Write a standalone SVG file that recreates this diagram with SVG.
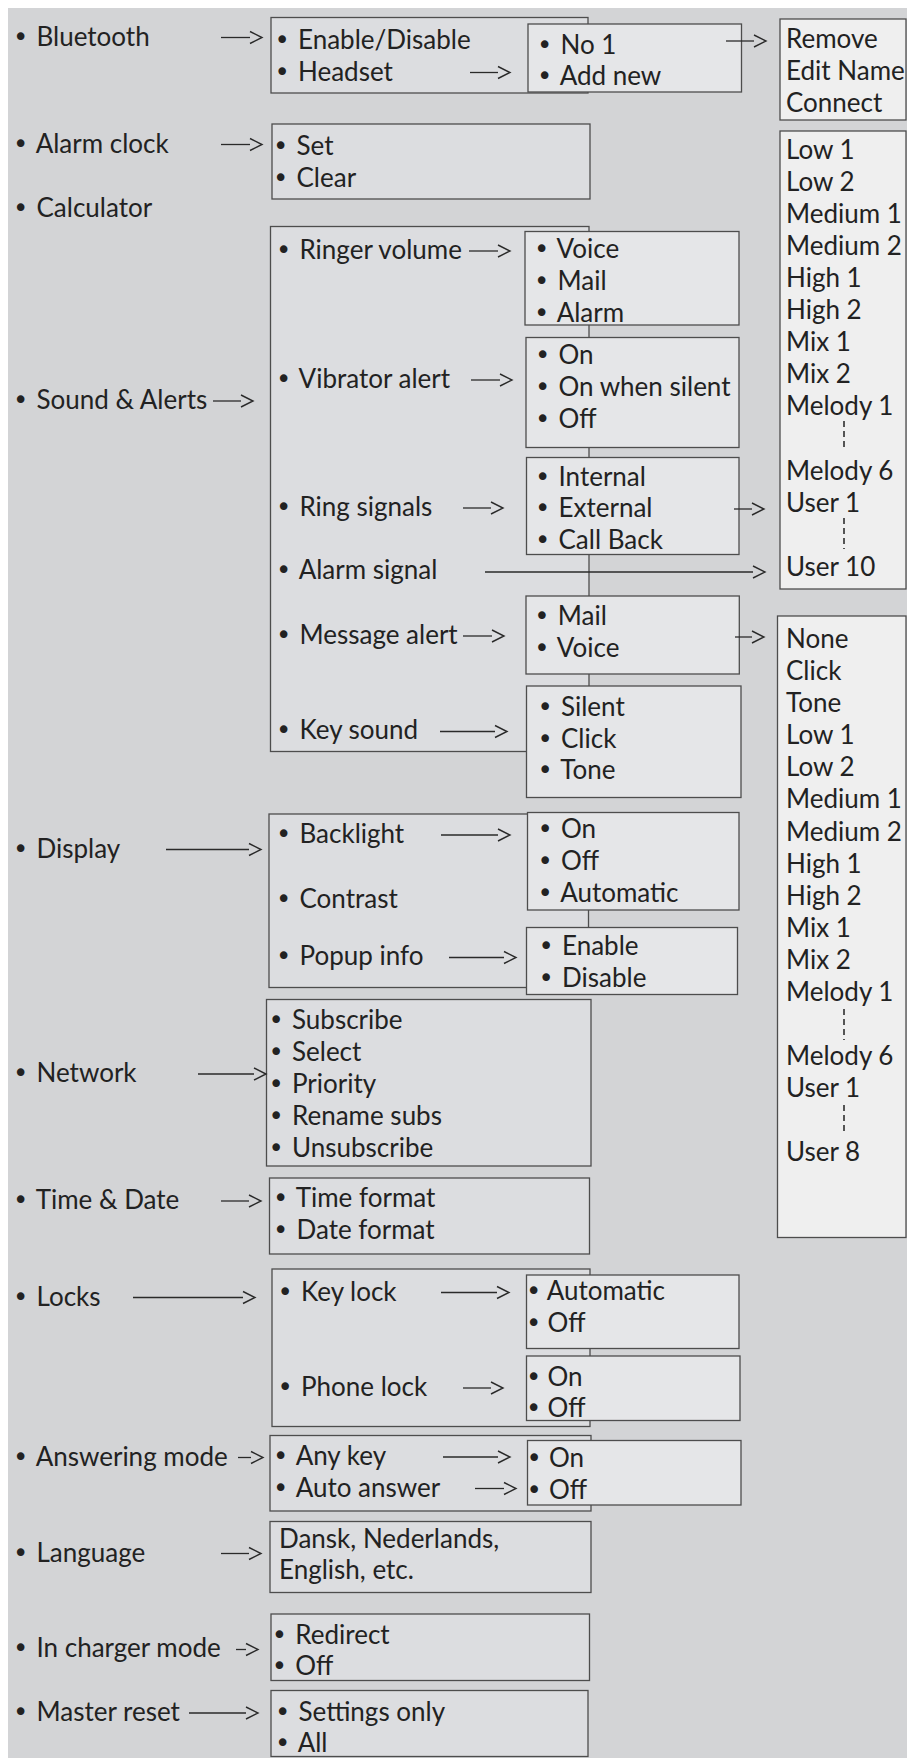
<svg xmlns="http://www.w3.org/2000/svg" width="907" height="1758" viewBox="0 0 907 1758">
<style>
.t{font-family:Lato,"Open Sans","DejaVu Sans",sans-serif;font-size:26px;fill:#222}
.b{font-family:"DejaVu Sans",sans-serif;font-size:26px}
.bx2{fill:#dcdde0;stroke:#4d4d4d;stroke-width:1.3}
.bx3{fill:#e5e6e8;stroke:#4d4d4d;stroke-width:1.3}
.bx4{fill:#efefef;stroke:#4d4d4d;stroke-width:1.3}
.c{stroke:#2a2a2a;stroke-width:1.3;fill:none;marker-end:url(#chev)}
.d{stroke:#222;stroke-width:1.5;stroke-dasharray:6 4;fill:none}
</style>
<defs>
<marker id="chev" markerUnits="userSpaceOnUse" markerWidth="14" markerHeight="14" refX="0" refY="6" orient="auto" overflow="visible">
<path d="M0,0 L12,6 L0,12" fill="none" stroke="#2a2a2a" stroke-width="1.4"/>
</marker>
</defs>
<rect x="0" y="0" width="907" height="1758" fill="#ffffff"/>
<rect x="8" y="8" width="899" height="1750" fill="#d3d4d6"/>

<g id="n-bluetooth"><text class="t" x="13" y="46"><tspan class="b">•</tspan><tspan dx="1.5"> Bluetooth</tspan></text></g>
<g id="n-alarmclock"><text class="t" x="13" y="152.5"><tspan class="b">•</tspan><tspan dx="1.5"> Alarm clock</tspan></text></g>
<g id="n-calculator"><text class="t" x="13" y="216.5"><tspan class="b">•</tspan><tspan dx="1.5"> Calculator</tspan></text></g>
<g id="n-sound"><text class="t" x="13" y="409"><tspan class="b">•</tspan><tspan dx="1.5"> Sound &amp; Alerts</tspan></text></g>
<g id="n-display"><text class="t" x="13" y="857.5"><tspan class="b">•</tspan><tspan dx="1.5"> Display</tspan></text></g>
<g id="n-network"><text class="t" x="13" y="1081.5"><tspan class="b">•</tspan><tspan dx="1.5"> Network</tspan></text></g>
<g id="n-timedate"><text class="t" x="13" y="1209"><tspan class="b">•</tspan><tspan dx="1.5"> Time &amp; Date</tspan></text></g>
<g id="n-locks"><text class="t" x="13" y="1305.5"><tspan class="b">•</tspan><tspan dx="1.5"> Locks</tspan></text></g>
<g id="n-answering"><text class="t" x="13" y="1466"><tspan class="b">•</tspan><tspan dx="1.5"> Answering mode</tspan></text></g>
<g id="n-language"><text class="t" x="13" y="1561.5"><tspan class="b">•</tspan><tspan dx="1.5"> Language</tspan></text></g>
<g id="n-charger"><text class="t" x="13" y="1657"><tspan class="b">•</tspan><tspan dx="1.5"> In charger mode</tspan></text></g>
<g id="n-reset"><text class="t" x="13" y="1721"><tspan class="b">•</tspan><tspan dx="1.5"> Master reset</tspan></text></g>

<g id="m-bluetooth">
<rect class="bx2" x="271" y="17.5" width="317" height="75.5"/>
<text class="t" x="274.5" y="48.5"><tspan class="b">•</tspan><tspan dx="1.5"> Enable/Disable</tspan></text>
<text class="t" x="274.5" y="81"><tspan class="b">•</tspan><tspan dx="1.5"> Headset</tspan></text>
</g>
<g id="m-alarmclock">
<rect class="bx2" x="272" y="124" width="318" height="75"/>
<text class="t" x="273" y="155"><tspan class="b">•</tspan><tspan dx="1.5"> Set</tspan></text>
<text class="t" x="273" y="187"><tspan class="b">•</tspan><tspan dx="1.5"> Clear</tspan></text>
</g>
<g id="m-sound">
<rect class="bx2" x="270.5" y="226.5" width="318.5" height="525"/>
<text class="t" x="276" y="259"><tspan class="b">•</tspan><tspan dx="1.5"> Ringer volume</tspan></text>
<text class="t" x="276" y="388"><tspan class="b">•</tspan><tspan dx="1.5"> Vibrator alert</tspan></text>
<text class="t" x="276" y="516"><tspan class="b">•</tspan><tspan dx="1.5"> Ring signals</tspan></text>
<text class="t" x="276" y="579"><tspan class="b">•</tspan><tspan dx="1.5"> Alarm signal</tspan></text>
<text class="t" x="276" y="644"><tspan class="b">•</tspan><tspan dx="1.5"> Message alert</tspan></text>
<text class="t" x="276" y="739"><tspan class="b">•</tspan><tspan dx="1.5"> Key sound</tspan></text>
</g>
<g id="m-display">
<rect class="bx2" x="269" y="814" width="319.5" height="173.5"/>
<text class="t" x="276" y="843"><tspan class="b">•</tspan><tspan dx="1.5"> Backlight</tspan></text>
<text class="t" x="276" y="908"><tspan class="b">•</tspan><tspan dx="1.5"> Contrast</tspan></text>
<text class="t" x="276" y="964.5"><tspan class="b">•</tspan><tspan dx="1.5"> Popup info</tspan></text>
</g>
<g id="m-network">
<rect class="bx2" x="266.5" y="999.5" width="324.5" height="166.5"/>
<text class="t" x="268.5" y="1028.7"><tspan class="b">•</tspan><tspan dx="1.5"> Subscribe</tspan></text>
<text class="t" x="268.5" y="1060.7"><tspan class="b">•</tspan><tspan dx="1.5"> Select</tspan></text>
<text class="t" x="268.5" y="1092.7"><tspan class="b">•</tspan><tspan dx="1.5"> Priority</tspan></text>
<text class="t" x="268.5" y="1124.7"><tspan class="b">•</tspan><tspan dx="1.5"> Rename subs</tspan></text>
<text class="t" x="268.5" y="1156.7"><tspan class="b">•</tspan><tspan dx="1.5"> Unsubscribe</tspan></text>
</g>
<g id="m-timedate">
<rect class="bx2" x="269.5" y="1178" width="320" height="76"/>
<text class="t" x="273" y="1206.5"><tspan class="b">•</tspan><tspan dx="1.5"> Time format</tspan></text>
<text class="t" x="273" y="1238.5"><tspan class="b">•</tspan><tspan dx="1.5"> Date format</tspan></text>
</g>
<g id="m-locks">
<rect class="bx2" x="272" y="1269" width="318" height="157.5"/>
<text class="t" x="277.5" y="1300.5"><tspan class="b">•</tspan><tspan dx="1.5"> Key lock</tspan></text>
<text class="t" x="277.5" y="1396"><tspan class="b">•</tspan><tspan dx="1.5"> Phone lock</tspan></text>
</g>
<g id="m-answering">
<rect class="bx2" x="270" y="1435.5" width="321" height="75.5"/>
<text class="t" x="273" y="1464.5"><tspan class="b">•</tspan><tspan dx="1.5"> Any key</tspan></text>
<text class="t" x="273" y="1496.5"><tspan class="b">•</tspan><tspan dx="1.5"> Auto answer</tspan></text>
</g>
<g id="m-language">
<rect class="bx2" x="270" y="1521.5" width="321" height="71"/>
<text class="t" x="279" y="1547.5">Dansk, Nederlands,</text>
<text class="t" x="279" y="1579">English, etc.</text>
</g>
<g id="m-charger">
<rect class="bx2" x="271" y="1614" width="318.5" height="66.5"/>
<text class="t" x="271.8" y="1643.5"><tspan class="b">•</tspan><tspan dx="1.5"> Redirect</tspan></text>
<text class="t" x="271.8" y="1675"><tspan class="b">•</tspan><tspan dx="1.5"> Off</tspan></text>
</g>
<g id="m-reset">
<rect class="bx2" x="271" y="1690.5" width="317" height="66"/>
<text class="t" x="275" y="1720.5"><tspan class="b">•</tspan><tspan dx="1.5"> Settings only</tspan></text>
<text class="t" x="275" y="1751.5"><tspan class="b">•</tspan><tspan dx="1.5"> All</tspan></text>
</g>

<g id="m-headset">
<rect class="bx3" x="528" y="24" width="213.5" height="68"/>
<text class="t" x="537" y="53.5"><tspan class="b">•</tspan><tspan dx="1.5"> No 1</tspan></text>
<text class="t" x="537" y="85"><tspan class="b">•</tspan><tspan dx="1.5"> Add new</tspan></text>
</g>
<g id="m-ringer">
<rect class="bx3" x="525" y="231.5" width="214" height="93.5"/>
<text class="t" x="534" y="257.5"><tspan class="b">•</tspan><tspan dx="1.5"> Voice</tspan></text>
<text class="t" x="534" y="289.5"><tspan class="b">•</tspan><tspan dx="1.5"> Mail</tspan></text>
<text class="t" x="534" y="321.5"><tspan class="b">•</tspan><tspan dx="1.5"> Alarm</tspan></text>
</g>
<g id="m-vibrator">
<rect class="bx3" x="526" y="337.5" width="213" height="110"/>
<text class="t" x="535" y="363.5"><tspan class="b">•</tspan><tspan dx="1.5"> On</tspan></text>
<text class="t" x="535" y="395.5"><tspan class="b">•</tspan><tspan dx="1.5"> On when silent</tspan></text>
<text class="t" x="535" y="427.5"><tspan class="b">•</tspan><tspan dx="1.5"> Off</tspan></text>
</g>
<g id="m-ringsignals">
<rect class="bx3" x="526.5" y="457.5" width="212.5" height="97"/>
<text class="t" x="535" y="485.5"><tspan class="b">•</tspan><tspan dx="1.5"> Internal</tspan></text>
<text class="t" x="535" y="517"><tspan class="b">•</tspan><tspan dx="1.5"> External</tspan></text>
<text class="t" x="535" y="549"><tspan class="b">•</tspan><tspan dx="1.5"> Call Back</tspan></text>
</g>
<g id="m-message">
<rect class="bx3" x="526" y="596" width="213.3" height="78"/>
<text class="t" x="534.3" y="624.5"><tspan class="b">•</tspan><tspan dx="1.5"> Mail</tspan></text>
<text class="t" x="534.3" y="657"><tspan class="b">•</tspan><tspan dx="1.5"> Voice</tspan></text>
</g>
<g id="m-keysound">
<rect class="bx3" x="526.5" y="686" width="214.5" height="111.5"/>
<text class="t" x="537.5" y="715.5"><tspan class="b">•</tspan><tspan dx="1.5"> Silent</tspan></text>
<text class="t" x="537.5" y="747.5"><tspan class="b">•</tspan><tspan dx="1.5"> Click</tspan></text>
<text class="t" x="537.5" y="779"><tspan class="b">•</tspan><tspan dx="1.5"> Tone</tspan></text>
</g>
<g id="m-backlight">
<rect class="bx3" x="527.5" y="812.5" width="211.5" height="97.5"/>
<text class="t" x="537.5" y="837.5"><tspan class="b">•</tspan><tspan dx="1.5"> On</tspan></text>
<text class="t" x="537.5" y="869.5"><tspan class="b">•</tspan><tspan dx="1.5"> Off</tspan></text>
<text class="t" x="537.5" y="901.5"><tspan class="b">•</tspan><tspan dx="1.5"> Automatic</tspan></text>
</g>
<g id="m-popup">
<rect class="bx3" x="526.5" y="927.5" width="211" height="67"/>
<text class="t" x="538.5" y="955"><tspan class="b">•</tspan><tspan dx="1.5"> Enable</tspan></text>
<text class="t" x="538.5" y="987"><tspan class="b">•</tspan><tspan dx="1.5"> Disable</tspan></text>
</g>
<g id="m-keylock">
<rect class="bx3" x="526.5" y="1275" width="212.5" height="73.5"/>
<text class="t" x="526" y="1300"><tspan class="b">•</tspan><tspan dx="-0.5"> Automatic</tspan></text>
<text class="t" x="526" y="1331.5"><tspan class="b">•</tspan><tspan dx="-0.5"> Off</tspan></text>
</g>
<g id="m-phonelock">
<rect class="bx3" x="526.5" y="1356" width="213.5" height="64.5"/>
<text class="t" x="526" y="1385.5"><tspan class="b">•</tspan><tspan dx="-0.5"> On</tspan></text>
<text class="t" x="526" y="1417"><tspan class="b">•</tspan><tspan dx="-0.5"> Off</tspan></text>
</g>
<g id="m-anykey">
<rect class="bx3" x="527.5" y="1440.5" width="213.5" height="64.5"/>
<text class="t" x="526.5" y="1467"><tspan class="b">•</tspan><tspan dx="0.5"> On</tspan></text>
<text class="t" x="526.5" y="1498.5"><tspan class="b">•</tspan><tspan dx="0.5"> Off</tspan></text>
</g>

<g id="m-device">
<rect class="bx4" x="780" y="19" width="126" height="101"/>
<text class="t" x="786" y="48">Remove</text>
<text class="t" x="786" y="80">Edit Name</text>
<text class="t" x="786" y="112">Connect</text>
</g>
<g id="m-melodies">
<rect class="bx4" x="780" y="131" width="126" height="458"/>
<text class="t" x="786" y="158.5">Low 1</text>
<text class="t" x="786" y="190.6">Low 2</text>
<text class="t" x="786" y="222.7">Medium 1</text>
<text class="t" x="786" y="254.8">Medium 2</text>
<text class="t" x="786" y="286.9">High 1</text>
<text class="t" x="786" y="319">High 2</text>
<text class="t" x="786" y="351.1">Mix 1</text>
<text class="t" x="786" y="383.2">Mix 2</text>
<text class="t" x="786" y="415.3">Melody 1</text>
<line class="d" x1="844" y1="421" x2="844" y2="448"/>
<text class="t" x="786" y="479.5">Melody 6</text>
<text class="t" x="786" y="511.6">User 1</text>
<line class="d" x1="844" y1="518" x2="844" y2="549"/>
<text class="t" x="786" y="575.8">User 10</text>
</g>
<g id="m-alertsounds">
<rect class="bx4" x="777.5" y="616" width="128.5" height="621.5"/>
<text class="t" x="786" y="648">None</text>
<text class="t" x="786" y="680.1">Click</text>
<text class="t" x="786" y="712.2">Tone</text>
<text class="t" x="786" y="744.2">Low 1</text>
<text class="t" x="786" y="776.3">Low 2</text>
<text class="t" x="786" y="808.4">Medium 1</text>
<text class="t" x="786" y="840.5">Medium 2</text>
<text class="t" x="786" y="872.6">High 1</text>
<text class="t" x="786" y="904.6">High 2</text>
<text class="t" x="786" y="936.7">Mix 1</text>
<text class="t" x="786" y="968.8">Mix 2</text>
<text class="t" x="786" y="1000.9">Melody 1</text>
<line class="d" x1="844" y1="1009" x2="844" y2="1040"/>
<text class="t" x="786" y="1065">Melody 6</text>
<text class="t" x="786" y="1097.1">User 1</text>
<line class="d" x1="844" y1="1105" x2="844" y2="1135"/>
<text class="t" x="786" y="1161.3">User 8</text>
</g>

<g id="connectors">
<line class="c" x1="221" y1="37.5" x2="250" y2="37.5"/>
<line class="c" x1="221" y1="144.5" x2="250" y2="144.5"/>
<line class="c" x1="213" y1="401" x2="241" y2="401"/>
<line class="c" x1="166" y1="849.5" x2="249" y2="849.5"/>
<line class="c" x1="198" y1="1074" x2="254" y2="1074"/>
<line class="c" x1="221" y1="1201" x2="249" y2="1201"/>
<line class="c" x1="133" y1="1297.5" x2="243" y2="1297.5"/>
<line class="c" x1="238" y1="1457.5" x2="251" y2="1457.5"/>
<line class="c" x1="221" y1="1553.5" x2="249" y2="1553.5"/>
<line class="c" x1="236" y1="1649.5" x2="246" y2="1649.5"/>
<line class="c" x1="189" y1="1713" x2="246" y2="1713"/>
<line class="c" x1="470" y1="72.5" x2="498" y2="72.5"/>
<line class="c" x1="726" y1="41" x2="754" y2="41"/>
<line class="c" x1="469" y1="251" x2="498" y2="251"/>
<line class="c" x1="471" y1="380" x2="500" y2="380"/>
<line class="c" x1="463" y1="508" x2="491" y2="508"/>
<line class="c" x1="485" y1="572" x2="753" y2="572"/>
<line class="c" x1="463" y1="636" x2="492" y2="636"/>
<line class="c" x1="440" y1="731.5" x2="495" y2="731.5"/>
<line class="c" x1="734" y1="509" x2="752" y2="509"/>
<line class="c" x1="735" y1="637" x2="752" y2="637"/>
<line class="c" x1="441" y1="835" x2="498" y2="835"/>
<line class="c" x1="449" y1="957.5" x2="504" y2="957.5"/>
<line class="c" x1="441" y1="1292.5" x2="497" y2="1292.5"/>
<line class="c" x1="463" y1="1388" x2="491" y2="1388"/>
<line class="c" x1="443" y1="1457" x2="498" y2="1457"/>
<line class="c" x1="475" y1="1488.5" x2="504" y2="1488.5"/>
</g>
</svg>
